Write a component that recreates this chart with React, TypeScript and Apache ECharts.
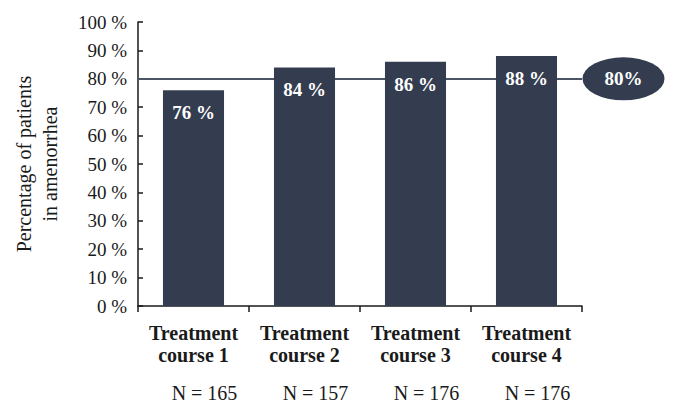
import React, { useEffect, useRef } from "react";
import * as echarts from "echarts";

const categories = ["Treatment course 1", "Treatment course 2", "Treatment course 3", "Treatment course 4"];
const courseLines = [["Treatment", "course 1"], ["Treatment", "course 2"], ["Treatment", "course 3"], ["Treatment", "course 4"]];
const values = [76, 84, 86, 88];
const sampleSizes = [165, 157, 176, 176];
const threshold = 80;
const thresholdLabel = "80%";

const FONT = "'Liberation Serif', 'DejaVu Serif', serif";
const BAR = "#343d4f";
const INK = "#1a1a1a";

export default function App() {
  const ref = useRef<HTMLDivElement>(null);
  useEffect(() => {
    const chart = echarts.init(ref.current!, null, { renderer: "svg" });
    chart.setOption({
      animation: false,
      textStyle: { fontFamily: FONT },
      grid: { left: 138, right: 96, top: 22, bottom: 108 },
      xAxis: {
        type: "category",
        data: categories,
        axisLine: { lineStyle: { color: INK, width: 1.5 } },
        axisTick: { show: true, length: 6, lineStyle: { color: INK, width: 1.5 } },
        axisLabel: {
          margin: 16,
          interval: 0,
          formatter: (_v: string, i: number) =>
            `{b|${courseLines[i][0]}}\n{b|${courseLines[i][1]}}\n{n|N = ${sampleSizes[i]}}`,
          rich: {
            b: { fontFamily: FONT, fontWeight: "bold", fontSize: 20, lineHeight: 22, color: INK },
            n: { fontFamily: FONT, fontSize: 20, lineHeight: 54, color: INK, padding: [0, 0, 0, 22] },
          },
        },
      },
      yAxis: {
        type: "value",
        min: 0,
        max: 100,
        interval: 10,
        name: "Percentage of patients\nin amenorrhea",
        nameLocation: "middle",
        nameGap: 75,
        nameTextStyle: { fontFamily: FONT, fontSize: 20, lineHeight: 26, color: INK },
        axisLine: { show: true, lineStyle: { color: INK, width: 1.5 } },
        axisTick: { show: true, inside: true, length: 5, lineStyle: { color: INK, width: 1.5 } },
        splitLine: { show: false },
        axisLabel: { formatter: "{value} %", fontFamily: FONT, fontSize: 19, color: INK, margin: 11 },
      },
      series: [
        {
          type: "bar",
          z: 3,
          data: values,
          barWidth: "55%",
          itemStyle: { color: BAR },
          label: {
            show: true,
            position: "insideTop",
            distance: 13,
            formatter: "{c} %",
            color: "#ffffff",
            fontFamily: FONT,
            fontWeight: "bold",
            fontSize: 19,
          },
          markLine: {
            silent: true,
            z: 1,
            symbol: ["none", "none"],
            label: { show: false },
            lineStyle: { color: "#4b5565", width: 1.8, type: "solid" },
            data: [{ yAxis: threshold }],
          },
          markPoint: {
            silent: true,
            z: 4,
            symbol: "path://M50,0 A50,50 0 1,1 50,100 A50,50 0 1,1 50,0 Z",
            symbolSize: [82, 43],
            symbolOffset: [97, 0],
            itemStyle: { color: BAR },
            label: {
              show: true,
              formatter: thresholdLabel,
              color: "#ffffff",
              fontFamily: FONT,
              fontWeight: "bold",
              fontSize: 19,
            },
            data: [{ coord: [3, threshold] }],
          },
        },
      ],
    });
    return () => chart.dispose();
  }, []);
  return <div ref={ref} style={{ position: "absolute", left: 0, top: 0, width: 678, height: 414 }} />;
}
